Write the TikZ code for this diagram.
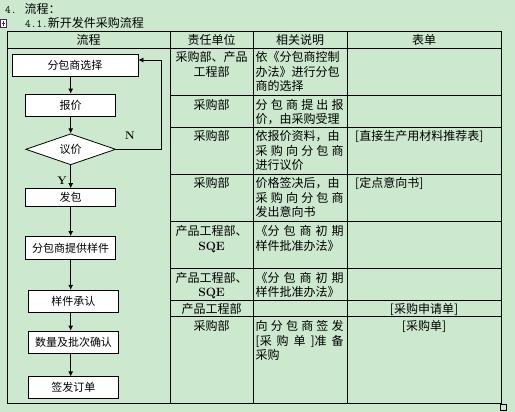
\documentclass[tikz,border=0pt]{standalone}
\usepackage{fontspec}
\newfontfamily\cjk{Noto Sans CJK SC}
\usepackage{xcolor}
\definecolor{PageGreen}{RGB}{204,232,207}
\definecolor{HandlePurple}{RGB}{70,40,80}
\usepackage{tikz}
\usetikzlibrary{arrows.meta,positioning,shapes.geometric}

\newcommand{\spread}[1]{\makebox[88pt][s]{#1}}

\begin{document}
\begin{tikzpicture}[
    x=1pt,y=-1pt,
    font=\cjk\fontsize{12}{14.5}\selectfont,
    box/.style={draw,line width=0.8pt,fill=white,minimum width=90pt,minimum height=22pt,inner sep=2pt,font=\cjk\fontsize{11}{13}\selectfont},
    choice/.style={diamond,draw,line width=0.8pt,fill=white,aspect=2.9,minimum width=90pt,minimum height=31pt,inner sep=0pt,font=\cjk\fontsize{11}{13}\selectfont},
    arr/.style={-{Latex[length=5pt,width=5pt]},line width=0.8pt},
    grid/.style={line width=0.8pt},
    head/.style={inner sep=0pt},
    unit/.style={anchor=north,inner sep=0pt,align=center},
    desc/.style={anchor=north west,inner sep=0pt,align=left},
    form/.style={anchor=north west,inner sep=0pt},
    yn/.style={inner sep=0pt,font=\rmfamily\bfseries\fontsize{11}{13}\selectfont},
  ]
    \fill[PageGreen] (0,0) rectangle (515,412);
    \useasboundingbox (0,0) rectangle (515,412);

    % headings
    \node[anchor=west,inner sep=0pt] (sec) at (5,9) {{\ttfamily\fontsize{11}{13}\selectfont 4.}\hspace{8pt}流程：};
    \node[anchor=west,inner sep=0pt] (subsec) at (25,23) {{\ttfamily\fontsize{11}{13}\selectfont 4.1.}新开发件采购流程};

    % table
    \draw[grid] (7,31) rectangle (501,403);
    \foreach \x in {170,253,347} \draw[grid] (\x,31) -- (\x,403);
    \draw[grid] (7,48) -- (501,48);
    \foreach \y in {95.5,127,174,221.7,268.3,300,316.7} \draw[grid] (170,\y) -- (501,\y);
    \draw[HandlePurple,line width=0.6pt,fill=white] (0.5,19.5) rectangle (6,27.5);
    \draw[HandlePurple,line width=0.4pt] (1.5,23.5) -- (5,23.5) (3.25,21) -- (3.25,26);
    \draw[line width=0.6pt] (500,404) rectangle (506,410);

    \node[head] (h1) at (88.5,39.5) {流程};
    \node[head] (h2) at (211.5,39.5) {责任单位};
    \node[head] (h3) at (300,39.5) {相关说明};
    \node[head] (h4) at (424,39.5) {表单};

    % responsible units
    \node[unit] (u1) at (211.5,51.5) {采购部、产品\\工程部};
    \node[unit] (u2) at (211.5,99) {采购部};
    \node[unit] (u3) at (211.5,130.5) {采购部};
    \node[unit] (u4) at (211.5,177.5) {采购部};
    \node[unit] (u5) at (211.5,225.2) {产品工程部、\\{\rmfamily\bfseries SQE}};
    \node[unit] (u6) at (211.5,271.8) {产品工程部、\\{\rmfamily\bfseries SQE}};
    \node[unit] (u7) at (211.5,303.5) {产品工程部};
    \node[unit] (u8) at (211.5,320.2) {采购部};

    % descriptions
    \node[desc] (d1) at (255.5,51.5) {依《分包商控制\\办法》进行分包\\商的选择};
    \node[desc] (d2) at (255.5,99) {\spread{分 包 商 提 出 报}\\价，由采购受理};
    \node[desc] (d3) at (255.5,130.5) {依报价资料，由\\\spread{采 购 向 分 包 商}\\进行议价};
    \node[desc] (d4) at (255.5,177.5) {价格签决后，由\\\spread{采 购 向 分 包 商}\\发出意向书};
    \node[desc] (d5) at (255.5,225.2) {\spread{《分 包 商 初 期}\\样件批准办法》};
    \node[desc] (d6) at (255.5,271.8) {\spread{《分 包 商 初 期}\\样件批准办法》};
    \node[desc] (d8) at (255.5,320.2) {\spread{向 分 包 商 签 发}\\\spread{[采 购 单 ]准 备}\\采购};

    % forms
    \node[form] (f3) at (355,130.5) {[直接生产用材料推荐表]};
    \node[form] (f4) at (355,177.5) {[定点意向书]};
    \node[unit] (f7) at (424,303.5) {[采购申请单]};
    \node[unit] (f8) at (424,320.2) {[采购单]};

    % flow chart
    \node[box,minimum width=126pt] (sel) at (75,65) {分包商选择};
    \node[box] (quote) at (70.7,105) {报价};
    \node[choice,below=17pt of quote] (bargain) {议价};
    \node[box,minimum height=18pt,below=23pt of bargain] (award) {发包};
    \node[box,minimum height=23pt,below=29pt of award] (sample) {分包商提供样件};
    \node[box,below=30pt of sample,xshift=2.8pt] (approve) {样件承认};
    \node[box,below=18pt of approve] (qty) {数量及批次确认};
    \node[box,below=23pt of qty] (order) {签发订单};

    \draw[arr] (sel.south -| quote.north) -- (quote.north);
    \draw[arr] (quote) -- (bargain);
    \draw[arr] (bargain) -- (award);
    \draw[arr] (award) -- (sample);
    \draw[arr] (sample.south) -- (sample.south |- approve.north);
    \draw[arr] (approve.south -| sample.south) -- (sample.south |- qty.north);
    \draw[arr] (qty.south -| sample.south) -- (sample.south |- order.north);
    \draw[arr] (bargain.east) -- ++(45,0) |- ([yshift=5pt]sel.east);
    \node[yn] (no) at (130,136) {N};
    \node[yn] (yes) at (62,181) {Y};
  \end{tikzpicture}
\end{document}
